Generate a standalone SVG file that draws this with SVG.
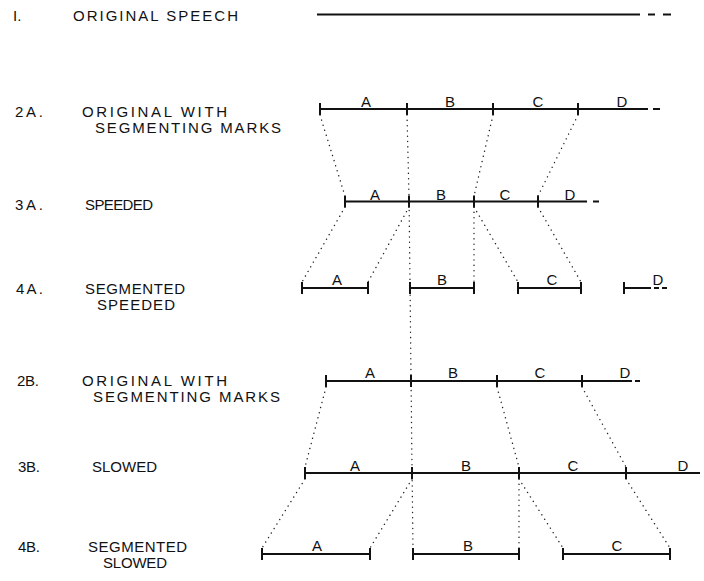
<svg xmlns="http://www.w3.org/2000/svg" width="704" height="581" viewBox="0 0 704 581">
<style>
  .bg { fill: #ffffff; }
  .lbl { font-family: "Liberation Sans", Arial, sans-serif; font-size: 15px; fill: #111; }
  .seg { font-family: "Liberation Sans", Arial, sans-serif; font-size: 15px; fill: #111; text-anchor: middle; }
  .ln { stroke: #111; stroke-width: 2; fill: none; }
  .tk { stroke: #111; stroke-width: 2; fill: none; }
  .dot { stroke: #222; stroke-width: 1.4; fill: none; stroke-dasharray: 0.1 5.2; stroke-linecap: round; }
</style>
<rect class="bg" x="0" y="0" width="704" height="581"/>

<g id="row1">
  <text class="lbl" x="13" y="21">I.</text>
  <text class="lbl" x="73" y="21" textLength="165" lengthAdjust="spacing">ORIGINAL  SPEECH</text>
  <line class="ln" x1="317" y1="14.5" x2="640" y2="14.5"/>
  <line class="ln" x1="648" y1="14.5" x2="655" y2="14.5"/>
  <line class="ln" x1="663" y1="14.5" x2="671" y2="14.5"/>
</g>

<g id="row2A">
  <text class="lbl" x="15" y="117" textLength="28" lengthAdjust="spacing">2A.</text>
  <text class="lbl" x="82" y="117" textLength="145" lengthAdjust="spacing">ORIGINAL  WITH</text>
  <text class="lbl" x="95" y="133" textLength="186" lengthAdjust="spacing">SEGMENTING MARKS</text>
  <line class="ln" x1="320" y1="109" x2="648" y2="109"/>
  <line class="ln" x1="653" y1="109" x2="660" y2="109"/>
  <line class="tk" x1="320" y1="103" x2="320" y2="115"/>
  <line class="tk" x1="407" y1="103" x2="407" y2="115"/>
  <line class="tk" x1="493" y1="103" x2="493" y2="115"/>
  <line class="tk" x1="578" y1="103" x2="578" y2="115"/>
  <text class="seg" x="366" y="107">A</text>
  <text class="seg" x="450" y="107">B</text>
  <text class="seg" x="538" y="107">C</text>
  <text class="seg" x="622" y="107">D</text>
</g>

<g id="row3A">
  <text class="lbl" x="15" y="210" textLength="28" lengthAdjust="spacing">3A.</text>
  <text class="lbl" x="85" y="210" textLength="68" lengthAdjust="spacing">SPEEDED</text>
  <line class="ln" x1="345" y1="201.5" x2="587" y2="201.5"/>
  <line class="ln" x1="593" y1="201.5" x2="599" y2="201.5"/>
  <line class="tk" x1="345" y1="195.5" x2="345" y2="207.5"/>
  <line class="tk" x1="409" y1="195.5" x2="409" y2="207.5"/>
  <line class="tk" x1="474" y1="195.5" x2="474" y2="207.5"/>
  <line class="tk" x1="538" y1="195.5" x2="538" y2="207.5"/>
  <text class="seg" x="375" y="200">A</text>
  <text class="seg" x="441" y="200">B</text>
  <text class="seg" x="505" y="200">C</text>
  <text class="seg" x="570" y="200">D</text>
</g>

<g id="row4A">
  <text class="lbl" x="16" y="294" textLength="27" lengthAdjust="spacing">4A.</text>
  <text class="lbl" x="85" y="294" textLength="100" lengthAdjust="spacing">SEGMENTED</text>
  <text class="lbl" x="97" y="310" textLength="78" lengthAdjust="spacing">SPEEDED</text>
  <line class="ln" x1="302" y1="288" x2="368" y2="288"/>
  <line class="tk" x1="302" y1="282" x2="302" y2="294"/>
  <line class="tk" x1="368" y1="282" x2="368" y2="294"/>
  <line class="ln" x1="410" y1="288" x2="474" y2="288"/>
  <line class="tk" x1="410" y1="282" x2="410" y2="294"/>
  <line class="tk" x1="474" y1="282" x2="474" y2="294"/>
  <line class="ln" x1="518" y1="288" x2="581" y2="288"/>
  <line class="tk" x1="518" y1="282" x2="518" y2="294"/>
  <line class="tk" x1="581" y1="282" x2="581" y2="294"/>
  <line class="ln" x1="624" y1="288" x2="651" y2="288"/>
  <line class="tk" x1="624" y1="282" x2="624" y2="294"/>
  <line class="ln" x1="654" y1="288" x2="659" y2="288"/>
  <line class="ln" x1="662" y1="288" x2="667" y2="288"/>
  <text class="seg" x="337" y="285">A</text>
  <text class="seg" x="442" y="285">B</text>
  <text class="seg" x="552" y="285">C</text>
  <text class="seg" x="658" y="285">D</text>
</g>

<g id="row2B">
  <text class="lbl" x="17" y="386" textLength="22" lengthAdjust="spacing">2B.</text>
  <text class="lbl" x="82" y="386" textLength="145" lengthAdjust="spacing">ORIGINAL  WITH</text>
  <text class="lbl" x="93" y="402" textLength="187" lengthAdjust="spacing">SEGMENTING MARKS</text>
  <line class="ln" x1="326" y1="381" x2="632" y2="381"/>
  <line class="ln" x1="635" y1="381" x2="640" y2="381"/>
  <line class="tk" x1="326" y1="375" x2="326" y2="387"/>
  <line class="tk" x1="411" y1="375" x2="411" y2="387"/>
  <line class="tk" x1="497" y1="375" x2="497" y2="387"/>
  <line class="tk" x1="582" y1="375" x2="582" y2="387"/>
  <text class="seg" x="370" y="378">A</text>
  <text class="seg" x="453" y="378">B</text>
  <text class="seg" x="540" y="378">C</text>
  <text class="seg" x="625" y="378">D</text>
</g>

<g id="row3B">
  <text class="lbl" x="18" y="472" textLength="22" lengthAdjust="spacing">3B.</text>
  <text class="lbl" x="92" y="472" textLength="65" lengthAdjust="spacing">SLOWED</text>
  <line class="ln" x1="305" y1="473" x2="700" y2="473"/>
  <line class="tk" x1="305" y1="467" x2="305" y2="479"/>
  <line class="tk" x1="412" y1="467" x2="412" y2="479"/>
  <line class="tk" x1="519" y1="467" x2="519" y2="479"/>
  <line class="tk" x1="626" y1="467" x2="626" y2="479"/>
  <text class="seg" x="355" y="471">A</text>
  <text class="seg" x="466" y="471">B</text>
  <text class="seg" x="573" y="471">C</text>
  <text class="seg" x="683" y="471">D</text>
</g>

<g id="row4B">
  <text class="lbl" x="18" y="552" textLength="22" lengthAdjust="spacing">4B.</text>
  <text class="lbl" x="88" y="552" textLength="99" lengthAdjust="spacing">SEGMENTED</text>
  <text class="lbl" x="103" y="568" textLength="64" lengthAdjust="spacing">SLOWED</text>
  <line class="ln" x1="262" y1="554" x2="370" y2="554"/>
  <line class="tk" x1="262" y1="548" x2="262" y2="560"/>
  <line class="tk" x1="370" y1="548" x2="370" y2="560"/>
  <line class="ln" x1="413" y1="554" x2="519" y2="554"/>
  <line class="tk" x1="413" y1="548" x2="413" y2="560"/>
  <line class="tk" x1="519" y1="548" x2="519" y2="560"/>
  <line class="ln" x1="563" y1="554" x2="670" y2="554"/>
  <line class="tk" x1="563" y1="548" x2="563" y2="560"/>
  <line class="tk" x1="670" y1="548" x2="670" y2="560"/>
  <text class="seg" x="317" y="551">A</text>
  <text class="seg" x="468" y="551">B</text>
  <text class="seg" x="617" y="551">C</text>
</g>

<g id="connectors">
  <line class="dot" x1="320" y1="115" x2="345" y2="196"/>
  <polyline class="dot" points="407,115 409,196 410,282 411,375 412,467 413,548"/>
  <line class="dot" x1="493" y1="115" x2="474" y2="196"/>
  <line class="dot" x1="578" y1="115" x2="538" y2="196"/>
  <line class="dot" x1="345" y1="207" x2="302" y2="282"/>
  <line class="dot" x1="409" y1="207" x2="368" y2="282"/>
  <line class="dot" x1="474" y1="207" x2="474" y2="282"/>
  <line class="dot" x1="474" y1="207" x2="518" y2="282"/>
  <line class="dot" x1="538" y1="207" x2="581" y2="282"/>
  <line class="dot" x1="326" y1="387" x2="305" y2="467"/>
  <line class="dot" x1="497" y1="387" x2="519" y2="467"/>
  <line class="dot" x1="582" y1="387" x2="626" y2="467"/>
  <line class="dot" x1="305" y1="479" x2="262" y2="548"/>
  <line class="dot" x1="412" y1="479" x2="370" y2="548"/>
  <line class="dot" x1="519" y1="479" x2="519" y2="548"/>
  <line class="dot" x1="519" y1="479" x2="563" y2="548"/>
  <line class="dot" x1="626" y1="479" x2="670" y2="548"/>
</g>
</svg>
